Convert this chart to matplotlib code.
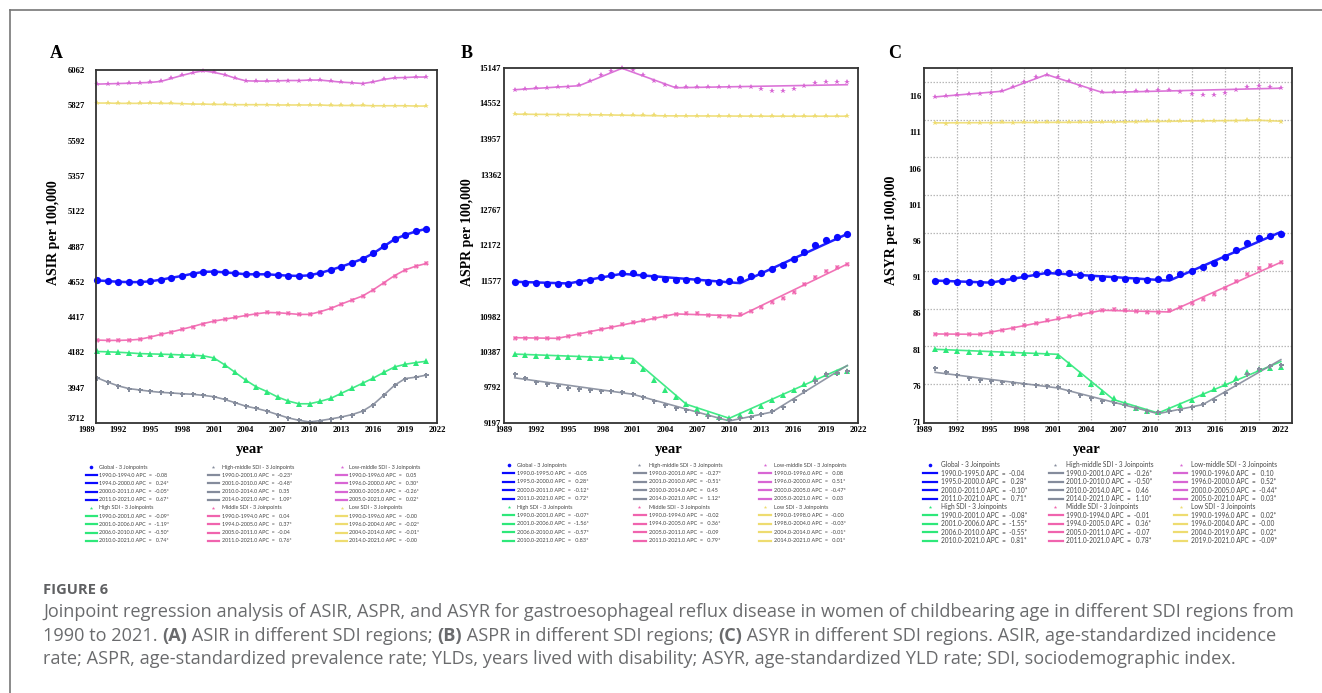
import matplotlib
matplotlib.use("Agg")
import matplotlib.pyplot as plt
from matplotlib import font_manager as fm
from matplotlib.lines import Line2D

W, H, DPI = 1322, 693, 100

# ---------------- data ----------------
years = list(range(1990, 2022))

# Panel A - ASIR (lines pass through the points)
asir_global = [4661, 4657, 4652, 4650, 4650, 4655, 4666, 4679, 4691, 4706, 4718, 4720, 4715, 4709, 4702, 4702,
               4702, 4697, 4693, 4691, 4695, 4711, 4731, 4753, 4778, 4805, 4841, 4888, 4935, 4964, 4987, 5005]
asir_high = [4188, 4186, 4183, 4179, 4174, 4172, 4170, 4168, 4165, 4163, 4159, 4145, 4100, 4049, 3997, 3952,
             3921, 3885, 3858, 3840, 3840, 3856, 3876, 3910, 3943, 3977, 4011, 4049, 4085, 4103, 4114, 4123]
asir_highmid = [4013, 3984, 3959, 3941, 3932, 3923, 3916, 3912, 3907, 3903, 3896, 3887, 3869, 3847, 3824, 3809,
                3791, 3768, 3746, 3730, 3719, 3728, 3739, 3752, 3768, 3791, 3835, 3898, 3963, 4008, 4017, 4031]
asir_middle = [4264, 4262, 4262, 4264, 4269, 4284, 4302, 4318, 4336, 4354, 4374, 4390, 4403, 4415, 4428, 4439,
               4448, 4446, 4441, 4435, 4435, 4453, 4475, 4504, 4531, 4558, 4599, 4646, 4693, 4731, 4756, 4774]
asir_lowmid = [5968, 5970, 5972, 5974, 5977, 5979, 5986, 6006, 6026, 6044, 6057, 6046, 6031, 6008, 5990, 5988,
               5988, 5990, 5992, 5992, 5995, 5995, 5988, 5981, 5977, 5972, 5983, 5999, 6010, 6012, 6015, 6015]
asir_low = [5842, 5842, 5840, 5840, 5840, 5842, 5840, 5840, 5838, 5835, 5835, 5833, 5833, 5831, 5831, 5831,
            5831, 5829, 5829, 5829, 5829, 5829, 5826, 5826, 5826, 5826, 5824, 5824, 5824, 5824, 5822, 5822]

# Panel B - ASPR
aspr_global = [11564, 11547, 11536, 11530, 11530, 11530, 11558, 11592, 11636, 11676, 11704, 11704, 11676, 11642,
               11608, 11597, 11597, 11586, 11564, 11558, 11569, 11608, 11653, 11709, 11777, 11844, 11939, 12063,
               12186, 12270, 12321, 12371]
aspr_high = [10352, 10341, 10324, 10313, 10302, 10296, 10296, 10291, 10291, 10296, 10296, 10240, 10106, 9926,
             9758, 9629, 9522, 9427, 9354, 9298, 9276, 9326, 9399, 9489, 9578, 9662, 9758, 9859, 9954, 10016,
             10044, 10061]
aspr_highmid = [10021, 9943, 9887, 9848, 9814, 9791, 9769, 9758, 9741, 9735, 9719, 9679, 9629, 9562, 9500, 9455,
                9410, 9371, 9320, 9281, 9253, 9281, 9304, 9348, 9399, 9461, 9578, 9730, 9898, 10016, 10038, 10072]
aspr_middle = [10627, 10621, 10616, 10616, 10621, 10655, 10694, 10728, 10767, 10812, 10857, 10896, 10930, 10958,
               10992, 11031, 11048, 11036, 11014, 10992, 10997, 11025, 11081, 11149, 11221, 11294, 11395, 11519,
               11648, 11737, 11805, 11861]
aspr_lowmid = [14783, 14794, 14805, 14811, 14822, 14828, 14856, 14934, 15024, 15097, 15142, 15108, 15024, 14934,
               14867, 14822, 14833, 14828, 14833, 14833, 14833, 14833, 14822, 14788, 14766, 14755, 14788, 14844,
               14889, 14912, 14912, 14906]
aspr_low = [14373, 14373, 14367, 14367, 14367, 14367, 14367, 14367, 14362, 14362, 14362, 14356, 14351, 14351,
            14345, 14345, 14345, 14345, 14345, 14345, 14345, 14339, 14339, 14339, 14339, 14339, 14339, 14339,
            14339, 14339, 14339, 14339]
# joinpoint fitted lines (B)
aspr_fit_global = ([1990, 1995, 2000, 2011, 2021], [11564, 11536, 11698, 11541, 12366])
aspr_fit_high = ([1990, 2001, 2006, 2010, 2021], [10352, 10279, 9511, 9276, 10156])
aspr_fit_highmid = ([1990, 2001, 2010, 2014, 2021], [9954, 9679, 9231, 9382, 10162])
aspr_fit_middle = ([1990, 1994, 2005, 2011, 2021], [10627, 10616, 11025, 10992, 11861])
aspr_fit_lowmid = ([1990, 1996, 2000, 2005, 2021], [14783, 14850, 15142, 14816, 14867])
aspr_fit_low = ([1990, 1998, 2004, 2014, 2021], [14373, 14362, 14345, 14339, 14339])

# Panel C - ASYR
asyr_global = [90.53, 90.44, 90.35, 90.30, 90.25, 90.35, 90.53, 90.85, 91.17, 91.50, 91.73, 91.73, 91.54, 91.27,
               91.04, 90.94, 90.94, 90.81, 90.67, 90.62, 90.71, 91.08, 91.45, 91.91, 92.42, 92.97, 93.75, 94.77,
               95.69, 96.38, 96.70, 97.02]
asyr_high = [81.04, 80.95, 80.81, 80.72, 80.63, 80.53, 80.53, 80.53, 80.49, 80.53, 80.49, 80.07, 79.01, 77.63,
             76.25, 75.19, 74.36, 73.58, 72.93, 72.47, 72.34, 72.80, 73.35, 74.09, 74.82, 75.56, 76.20, 77.03,
             77.86, 78.37, 78.42, 78.55]
asyr_highmid = [78.42, 77.86, 77.45, 77.13, 76.85, 76.62, 76.48, 76.39, 76.25, 76.16, 76.02, 75.79, 75.33, 74.78,
                74.32, 73.95, 73.63, 73.30, 72.89, 72.47, 72.34, 72.47, 72.70, 73.07, 73.53, 74.09, 75.01, 76.25,
                77.68, 78.32, 78.69, 78.92]
asyr_middle = [83.16, 83.16, 83.11, 83.11, 83.21, 83.44, 83.71, 84.04, 84.36, 84.73, 85.09, 85.42, 85.69, 85.92,
               86.20, 86.48, 86.57, 86.52, 86.34, 86.15, 86.20, 86.43, 86.94, 87.44, 88.04, 88.64, 89.47, 90.44,
               91.50, 92.23, 92.65, 93.06]
asyr_lowmid = [115.95, 116.09, 116.19, 116.28, 116.32, 116.42, 116.69, 117.24, 118.03, 118.67, 118.99, 118.67,
               118.17, 117.47, 116.92, 116.60, 116.65, 116.65, 116.74, 116.78, 116.83, 116.83, 116.65, 116.37,
               116.23, 116.14, 116.46, 116.92, 117.29, 117.47, 117.29, 117.20]
asyr_low = [112.27, 112.22, 112.27, 112.32, 112.32, 112.36, 112.41, 112.36, 112.41, 112.41, 112.41, 112.41,
            112.41, 112.41, 112.41, 112.41, 112.45, 112.50, 112.50, 112.55, 112.55, 112.55, 112.55, 112.59,
            112.59, 112.59, 112.64, 112.64, 112.68, 112.68, 112.64, 112.50]
asyr_fit_global = ([1990, 1995, 2000, 2011, 2021], [90.53, 90.25, 91.59, 90.53, 97.25])
asyr_fit_high = ([1990, 2001, 2006, 2010, 2021], [81.04, 80.35, 74.09, 72.24, 79.34])
asyr_fit_highmid = ([1990, 2001, 2010, 2014, 2021], [77.86, 75.70, 72.15, 73.40, 79.61])
asyr_fit_middle = ([1990, 1994, 2005, 2011, 2021], [83.16, 83.11, 86.43, 86.20, 93.06])
asyr_fit_lowmid = ([1990, 1996, 2000, 2005, 2021], [115.91, 116.69, 118.99, 116.51, 117.11])
asyr_fit_low = ([1990, 1996, 2004, 2019, 2021], [112.32, 112.36, 112.41, 112.68, 112.55])

# tick labels
asir_yticks = [3712, 3947, 4182, 4417, 4652, 4887, 5122, 5357, 5592, 5827, 6062]
aspr_yticks = [9197, 9792, 10387, 10982, 11577, 12172, 12767, 13362, 13957, 14552, 15147]
asyr_yticks = [71, 76, 81, 86, 91, 96, 101, 106, 111, 116]
xtick_years = [1989, 1992, 1995, 1998, 2001, 2004, 2007, 2010, 2013, 2016, 2019, 2022]

series = ["Global", "High SDI", "High-middle SDI", "Middle SDI", "Low-middle SDI", "Low SDI"]

# legend texts (segment, APC)
legend_A = {
    "Global": [("1990.0-1994.0", "-0.08"), ("1994.0-2000.0", " 0.24*"), ("2000.0-2011.0", "-0.05*"), ("2011.0-2021.0", " 0.67*")],
    "High SDI": [("1990.0-2001.0", "-0.09*"), ("2001.0-2006.0", "-1.19*"), ("2006.0-2010.0", "-0.50*"), ("2010.0-2021.0", " 0.74*")],
    "High-middle SDI": [("1990.0-2001.0", "-0.23*"), ("2001.0-2010.0", "-0.48*"), ("2010.0-2014.0", " 0.35"), ("2014.0-2021.0", " 1.09*")],
    "Middle SDI": [("1990.0-1994.0", " 0.04"), ("1994.0-2005.0", " 0.37*"), ("2005.0-2011.0", "-0.04"), ("2011.0-2021.0", " 0.76*")],
    "Low-middle SDI": [("1990.0-1996.0", " 0.05"), ("1996.0-2000.0", " 0.30*"), ("2000.0-2005.0", "-0.26*"), ("2005.0-2021.0", " 0.02*")],
    "Low SDI": [("1990.0-1996.0", "-0.00"), ("1996.0-2004.0", "-0.02*"), ("2004.0-2014.0", "-0.01*"), ("2014.0-2021.0", "-0.00")],
}
legend_B = {
    "Global": [("1990.0-1995.0", "-0.05"), ("1995.0-2000.0", " 0.28*"), ("2000.0-2011.0", "-0.12*"), ("2011.0-2021.0", " 0.72*")],
    "High SDI": [("1990.0-2001.0", "-0.07*"), ("2001.0-2006.0", "-1.56*"), ("2006.0-2010.0", "-0.57*"), ("2010.0-2021.0", " 0.83*")],
    "High-middle SDI": [("1990.0-2001.0", "-0.27*"), ("2001.0-2010.0", "-0.51*"), ("2010.0-2014.0", " 0.45"), ("2014.0-2021.0", " 1.12*")],
    "Middle SDI": [("1990.0-1994.0", "-0.02"), ("1994.0-2005.0", " 0.36*"), ("2005.0-2011.0", "-0.09"), ("2011.0-2021.0", " 0.79*")],
    "Low-middle SDI": [("1990.0-1996.0", " 0.08"), ("1996.0-2000.0", " 0.51*"), ("2000.0-2005.0", "-0.47*"), ("2005.0-2021.0", " 0.03")],
    "Low SDI": [("1990.0-1998.0", "-0.00"), ("1998.0-2004.0", "-0.03*"), ("2004.0-2014.0", "-0.01*"), ("2014.0-2021.0", " 0.01*")],
}
legend_C = {
    "Global": [("1990.0-1995.0", "-0.04"), ("1995.0-2000.0", " 0.28*"), ("2000.0-2011.0", "-0.10*"), ("2011.0-2021.0", " 0.71*")],
    "High SDI": [("1990.0-2001.0", "-0.08*"), ("2001.0-2006.0", "-1.55*"), ("2006.0-2010.0", "-0.55*"), ("2010.0-2021.0", " 0.81*")],
    "High-middle SDI": [("1990.0-2001.0", "-0.26*"), ("2001.0-2010.0", "-0.50*"), ("2010.0-2014.0", " 0.46"), ("2014.0-2021.0", " 1.10*")],
    "Middle SDI": [("1990.0-1994.0", "-0.01"), ("1994.0-2005.0", " 0.36*"), ("2005.0-2011.0", "-0.07"), ("2011.0-2021.0", " 0.78*")],
    "Low-middle SDI": [("1990.0-1996.0", " 0.10"), ("1996.0-2000.0", " 0.52*"), ("2000.0-2005.0", "-0.44*"), ("2005.0-2021.0", " 0.03*")],
    "Low SDI": [("1990.0-1996.0", " 0.02*"), ("1996.0-2004.0", "-0.00"), ("2004.0-2019.0", " 0.02*"), ("2019.0-2021.0", "-0.09*")],
}

caption_title = "FIGURE 6"
caption_line1 = [("Joinpoint regression analysis of ASIR, ASPR, and ASYR for gastroesophageal reflux disease in women of childbearing age in different SDI regions from", "normal")]
caption_line2 = [("1990 to 2021. ", "normal"), ("(A)", "bold"), (" ASIR in different SDI regions; ", "normal"),
                 ("(B)", "bold"), (" ASPR in different SDI regions; ", "normal"), ("(C)", "bold"),
                 (" ASYR in different SDI regions. ASIR, age-standardized incidence", "normal")]
caption_line3 = [("rate; ASPR, age-standardized prevalence rate; YLDs, years lived with disability; ASYR, age-standardized YLD rate; SDI, sociodemographic index.", "normal")]

# ---------------- styles ----------------
colors = {"Global": "#0a0aff", "High SDI": "#2ee87a", "High-middle SDI": "#858c9c",
          "Middle SDI": "#f064ae", "Low-middle SDI": "#d866d4", "Low SDI": "#eedc70"}
markers = {"Global": "o", "High SDI": "^", "High-middle SDI": "P", "Middle SDI": "X",
           "Low-middle SDI": "*", "Low SDI": "*"}
msizes = {"Global": 5.2, "High SDI": 3.8, "High-middle SDI": 3.6, "Middle SDI": 3.6,
          "Low-middle SDI": 4.2, "Low SDI": 4.2}


def pick(fams):
    for f in fams:
        try:
            fm.findfont(fm.FontProperties(family=f), fallback_to_default=False)
            return f
        except Exception:
            pass
    return "DejaVu Sans"


SERIF = pick(["Liberation Serif", "DejaVu Serif"])
LEG = pick(["Lato", "Open Sans", "DejaVu Sans"])
CAP = pick(["Open Sans", "Lato", "DejaVu Sans"])

fig = plt.figure(figsize=(W / DPI, H / DPI), dpi=DPI)
fig.patch.set_facecolor("white")
renderer = fig.canvas.get_renderer()


def fx(x):
    return x / W


def fy(y):
    return 1 - y / H


def tw(s, fs, family, weight="normal"):
    t = fig.text(0, 0, s + "|", fontsize=fs, family=family, weight=weight)
    w1 = t.get_window_extent(renderer).width
    t.set_text("|")
    w2 = t.get_window_extent(renderer).width
    t.remove()
    return w1 - w2


def fit_fs(s, family, target, weight="normal"):
    return 10.0 * target / tw(s, 10.0, family, weight)


# outer frame lines
fig.add_artist(Line2D([fx(10), 1], [fy(10), fy(10)], transform=fig.transFigure, color="#777777", lw=1.2))
fig.add_artist(Line2D([fx(10), fx(10)], [fy(10), 0], transform=fig.transFigure, color="#777777", lw=1.2))

panels = [
    dict(letter="A", rect=(96, 70, 437, 423), xlim=(1989.9, 2022), ylim=(3712, 6062),
         pts=[asir_global, asir_high, asir_highmid, asir_middle, asir_lowmid, asir_low], fits=None,
         yticks=asir_yticks, ygrid=None, xlab_step=3.0, ypad=8, ylabel="ASIR per 100,000",
         ylabel_xy=(53, 233), year_xy=(250, 450), letter_xy=(56, 53), legend=legend_A,
         leg_rows=(467, 8.2), leg_cols=[(86, 97, 99, 91), (208, 219, 222, 213), (336, 347, 349, 342)],
         leg_w=68),
    dict(letter="B", rect=(504, 68, 858, 423), xlim=(1989, 2022), ylim=(9197, 15147),
         pts=[aspr_global, aspr_high, aspr_highmid, aspr_middle, aspr_lowmid, aspr_low],
         fits=[aspr_fit_global, aspr_fit_high, aspr_fit_highmid, aspr_fit_middle, aspr_fit_lowmid, aspr_fit_low],
         yticks=aspr_yticks, ygrid=None, xlab_step=3.0, ypad=2, ylabel="ASPR per 100,000",
         ylabel_xy=(468, 232), year_xy=(669, 450), letter_xy=(467, 53), legend=legend_B,
         leg_rows=(465, 8.4), leg_cols=[(503, 514, 517, 509), (634, 646, 649, 639), (759, 771, 774, 765)],
         leg_w=71),
    dict(letter="C", rect=(924, 68, 1292, 423), xlim=(1989, 2022), ylim=(70.86, 119.9),
         pts=[asyr_global, asyr_high, asyr_highmid, asyr_middle, asyr_lowmid, asyr_low],
         fits=[asyr_fit_global, asyr_fit_high, asyr_fit_highmid, asyr_fit_middle, asyr_fit_lowmid, asyr_fit_low],
         yticks=asyr_yticks, ygrid=[71 + 5.22 * k for k in range(1, 10)], xlab_step=2.905,
         ypad=2, ylabel="ASYR per 100,000", ylabel_xy=(891, 230), year_xy=(1087, 449), letter_xy=(895, 53),
         legend=legend_C, leg_rows=(465, 8.4),
         leg_cols=[(923, 937, 941, 930), (1049, 1063, 1066, 1055), (1174, 1187, 1191, 1181)], leg_w=83),
]

GRID = dict(color="#b8b8b8", linestyle=(0, (1.2, 1.2)), linewidth=0.9)

for p in panels:
    l, t, r, b = p["rect"]
    ax = fig.add_axes([fx(l), fy(b), (r - l) / W, (b - t) / H])
    ax.set_xlim(*p["xlim"])
    ax.set_ylim(*p["ylim"])
    for sp in ax.spines.values():
        sp.set_color("#333333")
        sp.set_linewidth(1.3)
        sp.set_zorder(10)

    # x ticks / grid
    grid_years = [y for y in xtick_years if p["xlim"][0] < y < p["xlim"][1]]
    ax.set_xticks(grid_years, minor=True)
    lab_pos = [1989 + k * p["xlab_step"] for k in range(len(xtick_years))]
    vis = [(pos, str(y)) for pos, y in zip(lab_pos, xtick_years) if pos >= p["xlim"][0] - 1e-9]
    ax.set_xticks([v[0] for v in vis])
    ax.set_xticklabels([v[1] for v in vis])
    if p["xlim"][0] > 1989:
        fig.text(fx(87), fy(430.5), "1989", ha="center", va="center", fontsize=6.0,
                 family=SERIF, weight="bold")
    # y ticks / grid
    ax.set_yticks(p["yticks"])
    ax.set_yticklabels([str(v) for v in p["yticks"]])
    if p["ygrid"] is None:
        ax.set_yticks([v for v in p["yticks"] if p["ylim"][0] < v < p["ylim"][1]], minor=True)
    else:
        ax.set_yticks(p["ygrid"], minor=True)
    ax.grid(False, which="major")
    ax.grid(True, which="minor", **GRID)
    ax.set_axisbelow(True)
    ax.tick_params(which="both", length=0)
    ax.tick_params(axis="x", pad=1.8, labelsize=6.2)
    ax.tick_params(axis="y", pad=p["ypad"], labelsize=6.2)
    for lab in ax.get_xticklabels() + ax.get_yticklabels():
        lab.set_family(SERIF)
        lab.set_weight("bold")
    if p["letter"] == "A":
        ax.get_yticklabels()[0].set_va("bottom")

    for i, s in enumerate(series):
        c = colors[s]
        lw = 1.8 if s == "Global" else 1.2
        if p["fits"] is None:
            ax.plot(years, p["pts"][i], color=c, lw=lw, zorder=3, alpha=0.9)
        else:
            fx_, fv_ = p["fits"][i]
            ax.plot(fx_, fv_, color=c, lw=lw, zorder=3, alpha=0.9)
        ax.plot(years, p["pts"][i], linestyle="none", marker=markers[s], ms=msizes[s], color=c,
                markeredgewidth=0, zorder=4, clip_on=False)

    # labels
    fig.text(fx(p["ylabel_xy"][0]), fy(p["ylabel_xy"][1]), p["ylabel"], rotation=90, ha="center",
             va="center", fontsize=10, family=SERIF, weight="bold")
    fig.text(fx(p["year_xy"][0]), fy(p["year_xy"][1]), "year", ha="center", va="center",
             fontsize=10.5, family=SERIF, weight="bold")
    fig.text(fx(p["letter_xy"][0]), fy(p["letter_xy"][1]), p["letter"], ha="center", va="center",
             fontsize=13, family=SERIF, weight="bold")

    # legend
    leg = p["legend"]
    sample = leg["Global"][0][0] + " APC  =  " + leg["Global"][0][1]
    lfs = fit_fs(sample, LEG, p["leg_w"])
    y0, dy = p["leg_rows"]
    groups = [("Global", "High SDI"), ("High-middle SDI", "Middle SDI"), ("Low-middle SDI", "Low SDI")]
    for (x0, x1, xt, xm), grp in zip(p["leg_cols"], groups):
        row = 0
        for s in grp:
            yy = y0 + row * dy
            fig.add_artist(Line2D([fx(xm)], [fy(yy)], transform=fig.transFigure, marker="o" if s == "Global" else "*",
                                  ms=2.6, color=colors[s], markeredgewidth=0, linestyle="none"))
            fig.text(fx(xt), fy(yy), s + " - 3 Joinpoints", ha="left", va="center", fontsize=lfs,
                     family=LEG, color="#444444")
            row += 1
            for seg, apc in leg[s]:
                yy = y0 + row * dy
                fig.add_artist(Line2D([fx(x0), fx(x1)], [fy(yy), fy(yy)], transform=fig.transFigure,
                                      color=colors[s], lw=1.6))
                fig.text(fx(xt), fy(yy), seg + " APC  =  " + apc, ha="left", va="center", fontsize=lfs,
                         family=LEG, color="#444444")
                row += 1

# caption
fs_title = fit_fs(caption_title, CAP, 65, "bold")
fig.text(fx(43), fy(594), caption_title, ha="left", va="baseline", fontsize=fs_title, family=CAP,
         weight="bold", color="#5f6062")
cap_fs = fit_fs(caption_line1[0][0], CAP, 1254)


def draw_runs(x, y, runs):
    for txt, wt in runs:
        fig.text(fx(x), fy(y), txt, ha="left", va="baseline", fontsize=cap_fs, family=CAP, weight=wt,
                 color="#6a6b6d")
        x += tw(txt, cap_fs, CAP, wt)


draw_runs(43, 617, caption_line1)
draw_runs(43, 641, caption_line2)
draw_runs(43, 664, caption_line3)

fig.savefig("out.png", dpi=DPI, facecolor="white")
